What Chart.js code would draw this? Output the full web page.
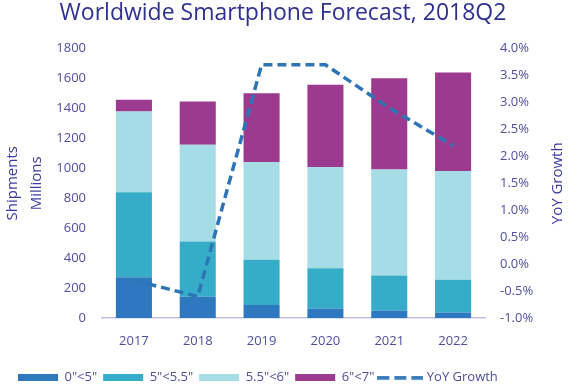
<!DOCTYPE html>
<html>
<head>
<meta charset="utf-8">
<script src="https://cdn.jsdelivr.net/npm/chart.js"></script>
<style>
  html, body { margin: 0; padding: 0; background: #fff; }
  #wrap { width: 575px; height: 384px; }
</style>
</head>
<body>
<div id="wrap"><canvas id="chart"></canvas></div>
<script>
// ====== DATA ======
const years = ["2017", "2018", "2019", "2020", "2021", "2022"];
const size0to5 = [273, 142, 87, 64, 49, 36];
const size5to55 = [567, 369, 302, 269, 235, 220];
const size55to6 = [540, 647, 653, 676, 709, 726];
const size6to7 = [78, 289, 460, 549, 609, 658];
const yoyGrowth = [-0.3, -0.6, 3.7, 3.7, 2.9, 2.2];

// ====== COLORS ======
const tickColor = "#4f4fa0";
const titleColor = "#2e3192";
const lineColor = "#2e75b6";
const fontFamily = "'Open Sans', sans-serif";

// dashed sample for the legend (chart.js draws point-style lines solid)
const dashIcon = document.createElement("canvas");
dashIcon.width = 46;
dashIcon.height = 4;
(function () {
  const c = dashIcon.getContext("2d");
  c.strokeStyle = lineColor;
  c.lineWidth = 3.5;
  c.setLineDash([12, 5]);
  c.beginPath();
  c.moveTo(0, 2);
  c.lineTo(46, 2);
  c.stroke();
})();

// right axis title drawn upward like the original
const rightTitle = {
  id: "rightTitle",
  afterDraw(chart) {
    const ctx = chart.ctx;
    const a = chart.chartArea;
    ctx.save();
    ctx.translate(558, (a.top + a.bottom) / 2);
    ctx.rotate(-Math.PI / 2);
    ctx.font = "15px " + fontFamily;
    ctx.fillStyle = "#3b3ba0";
    ctx.textAlign = "center";
    ctx.textBaseline = "middle";
    ctx.fillText("YoY Growth", 0, 0);
    ctx.restore();
  }
};

const ctx = document.getElementById("chart").getContext("2d");
new Chart(ctx, {
  data: {
    labels: years,
    datasets: [
      { type: "bar", label: '0"<5"', data: size0to5, backgroundColor: "#2e78c0", pointStyle: "rect", order: 1 },
      { type: "bar", label: '5"<5.5"', data: size5to55, backgroundColor: "#36adc8", pointStyle: "rect", order: 1 },
      { type: "bar", label: '5.5"<6"', data: size55to6, backgroundColor: "#a5dce6", pointStyle: "rect", order: 1 },
      { type: "bar", label: '6"<7"', data: size6to7, backgroundColor: "#9b3a8e", pointStyle: "rect", order: 1 },
      {
        type: "line",
        label: "YoY Growth",
        data: yoyGrowth,
        yAxisID: "y2",
        borderColor: lineColor,
        backgroundColor: lineColor,
        borderWidth: 3.5,
        borderDash: [9, 5],
        pointRadius: 0,
        pointStyle: dashIcon,
        tension: 0,
        order: 0
      }
    ]
  },
  options: {
    responsive: true,
    maintainAspectRatio: false,
    animation: false,
    layout: { padding: { left: 12, right: 21, top: 0, bottom: -10 } },
    datasets: { bar: { barPercentage: 0.565, categoryPercentage: 1.0 } },
    plugins: {
      title: {
        display: true,
        text: "Worldwide Smartphone Forecast, 2018Q2",
        color: titleColor,
        font: { family: fontFamily, size: 23, weight: "normal" },
        padding: { top: 0, bottom: 21 }
      },
      legend: {
        position: "bottom",
        align: "start",
        labels: {
          usePointStyle: true,
          pointStyleWidth: 40,
          boxHeight: 7,
          padding: 6,
          color: tickColor,
          font: { family: fontFamily, size: 13 },
          sort: (a, b) => a.datasetIndex - b.datasetIndex
        }
      },
      tooltip: { enabled: false }
    },
    scales: {
      x: {
        stacked: true,
        grid: { display: false, drawTicks: false },
        border: { display: true, color: "#c0c0e8", width: 1.5 },
        ticks: { color: tickColor, padding: 15, font: { family: fontFamily, size: 13 } },
        afterFit: (scale) => { scale.height = 47; }
      },
      y: {
        stacked: true,
        min: 0,
        max: 1800,
        grid: { display: false, drawTicks: false },
        border: { display: false },
        ticks: {
          stepSize: 200,
          color: tickColor,
          padding: 16,
          font: { family: fontFamily, size: 13 },
          callback: (v) => String(v)
        },
        title: {
          display: true,
          text: ["Shipments", "Millions"],
          color: "#3b3ba0",
          font: { family: fontFamily, size: 15, lineHeight: 1.6 },
          padding: { top: -11, bottom: 5 }
        },
        afterFit: (scale) => { scale.width = 90; }
      },
      y2: {
        position: "right",
        min: -1,
        max: 4,
        grid: { display: false, drawTicks: false },
        border: { display: false },
        ticks: {
          stepSize: 0.5,
          color: tickColor,
          padding: 15,
          font: { family: fontFamily, size: 13 },
          callback: (v) => v.toFixed(1) + "%"
        },
        afterFit: (scale) => { scale.width = 69; }
      }
    }
  },
  plugins: [rightTitle]
});
</script>
</body>
</html>
